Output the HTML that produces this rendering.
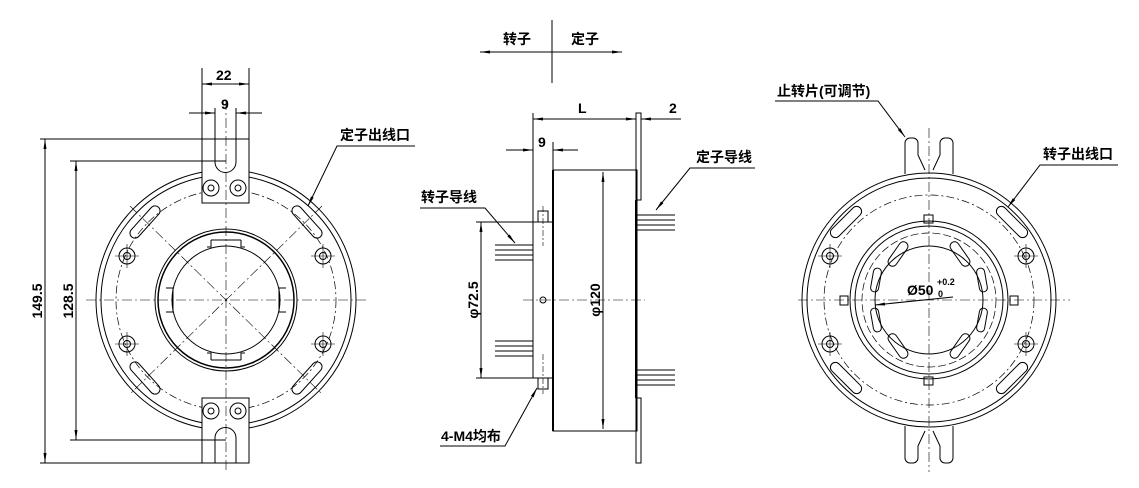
<!DOCTYPE html>
<html><head><meta charset="utf-8"><style>
html,body{margin:0;padding:0;background:#fff;}
svg{display:block;}
text{font-family:"Liberation Sans","Noto Sans CJK SC",sans-serif;font-weight:bold;fill:#000;}
</style></head><body>
<svg width="1139" height="488" viewBox="0 0 1139 488" xmlns="http://www.w3.org/2000/svg">
<defs>
<marker id="a" viewBox="0 0 10 4" refX="10" refY="2" markerWidth="10" markerHeight="4" orient="auto-start-reverse" markerUnits="userSpaceOnUse"><path d="M0,0.5 L10,2 L0,3.5z" fill="#000"/></marker>
</defs>
<g fill="none" stroke="#000" stroke-width="1">
<line x1="552" y1="20" x2="552" y2="83"/>
<line x1="480" y1="52" x2="622" y2="52" marker-start="url(#a)" marker-end="url(#a)"/>

<!-- LEFT VIEW -->
<circle cx="226" cy="300" r="130"/>
<circle cx="226" cy="300" r="125"/>
<circle cx="226" cy="300" r="110" stroke-dasharray="8,3,2,3" stroke-width="0.7"/>
<circle cx="226" cy="300" r="71"/>
<circle cx="226" cy="300" r="68" stroke-width="1.5"/>
<circle cx="226" cy="300" r="54"/>
<path d="M211,240 v7 h-4 M241,240 v7 h4 M211,240 h30 M211,360 v-7 h-4 M241,360 v-7 h4 M211,360 h30 M166,288 h7 v24 h-7 M286,288 h-7 v24 h7"/>
<g stroke-width="0.6" stroke-dasharray="10,3,2,3">
<line x1="86" y1="300" x2="366" y2="300"/>
<line x1="130" y1="206" x2="322" y2="394"/>
<line x1="322" y1="206" x2="130" y2="394"/>
</g>
<circle cx="127" cy="256" r="8"/><circle cx="127" cy="256" r="3.5"/>
<circle cx="323" cy="256" r="8"/><circle cx="323" cy="256" r="3.5"/>
<circle cx="127" cy="344" r="8"/><circle cx="127" cy="344" r="3.5"/>
<circle cx="323" cy="344" r="8"/><circle cx="323" cy="344" r="3.5"/>
<g stroke-width="0.6"><path d="M115,256h24M127,244v24M311,256h24M323,244v24M115,344h24M127,332v24M311,344h24M323,332v24"/></g>
<rect x="-20" y="-5" width="40" height="10" rx="5" transform="translate(145,222) rotate(-48)"/>
<rect x="-20" y="-5" width="40" height="10" rx="5" transform="translate(307,222) rotate(48)"/>
<rect x="-20" y="-5" width="40" height="10" rx="5" transform="translate(145,378) rotate(48)"/>
<rect x="-20" y="-5" width="40" height="10" rx="5" transform="translate(307,378) rotate(-48)"/>
<path d="M202,203 V139 H249 V203 Z" fill="#fff"/>
<path d="M215,139 V162 A10.5,10.5 0 0 0 236,162 V139"/>
<circle cx="211" cy="188" r="8"/><circle cx="211" cy="188" r="3"/>
<circle cx="238" cy="188" r="8"/><circle cx="238" cy="188" r="3"/>
<path d="M202,398 V463 H249 V398 Z" fill="#fff"/>
<path d="M215,463 V438 A10.5,10.5 0 0 1 236,438 V463"/>
<circle cx="211" cy="411" r="8"/><circle cx="211" cy="411" r="3"/>
<circle cx="238" cy="411" r="8"/><circle cx="238" cy="411" r="3"/>
<line x1="226" y1="100" x2="226" y2="470" stroke-width="0.6" stroke-dasharray="10,3,2,3"/>
<line x1="202" y1="68" x2="202" y2="139"/><line x1="249" y1="68" x2="249" y2="139"/>
<line x1="202" y1="84" x2="249" y2="84" marker-start="url(#a)" marker-end="url(#a)"/>
<line x1="215" y1="108" x2="215" y2="139"/><line x1="236" y1="108" x2="236" y2="139"/>
<line x1="189" y1="113" x2="215" y2="113" marker-end="url(#a)"/>
<line x1="262" y1="113" x2="236" y2="113" marker-end="url(#a)"/>
<line x1="40" y1="139" x2="215" y2="139"/><line x1="40" y1="463" x2="215" y2="463"/>
<line x1="45" y1="139" x2="45" y2="463" marker-start="url(#a)" marker-end="url(#a)"/>
<line x1="70" y1="161" x2="226" y2="161"/><line x1="70" y1="440" x2="226" y2="440"/>
<line x1="76" y1="161" x2="76" y2="440" marker-start="url(#a)" marker-end="url(#a)"/>
<path d="M415,146 H337 L308,206" marker-end="url(#a)"/>

<!-- MIDDLE VIEW -->
<line x1="533" y1="113" x2="533" y2="378"/>
<rect x="533" y="222" width="20" height="156"/>
<rect x="553" y="170" width="84" height="261"/>
<line x1="553" y1="170" x2="553" y2="431" stroke-width="2"/>
<rect x="636" y="113" width="5" height="87"/>
<rect x="636" y="398" width="5" height="65"/>
<line x1="636" y1="200" x2="636" y2="398" stroke-width="2"/>
<rect x="538" y="211" width="10" height="11"/><rect x="538" y="378" width="10" height="11"/>
<path d="M543,206v40M543,354v40" stroke-width="0.6" stroke-dasharray="6,2,2,2"/>
<circle cx="543" cy="300" r="3"/>
<line x1="523" y1="300" x2="645" y2="300" stroke-width="0.6" stroke-dasharray="10,3,2,3"/>
<path d="M495,245h38M495,250h38M495,255h38M495,260h38M495,341h38M495,346h38M495,351h38M495,356h38"/>
<path d="M637,215h38M637,220h38M637,225h38M637,230h38M637,370h38M637,375h38M637,380h38M637,385h38"/>
<line x1="533" y1="119" x2="636" y2="119" marker-start="url(#a)" marker-end="url(#a)"/>
<line x1="641" y1="113" x2="641" y2="125"/>
<line x1="661" y1="119" x2="641" y2="119" marker-end="url(#a)"/>
<line x1="641" y1="119" x2="681" y2="119"/>
<line x1="553" y1="142" x2="553" y2="170"/>
<line x1="506" y1="150" x2="533" y2="150" marker-end="url(#a)"/>
<line x1="578" y1="150" x2="553" y2="150" marker-end="url(#a)"/>
<line x1="603" y1="172" x2="603" y2="429" marker-start="url(#a)" marker-end="url(#a)"/>
<line x1="476" y1="222" x2="533" y2="222"/><line x1="476" y1="378" x2="533" y2="378"/>
<line x1="481" y1="222" x2="481" y2="378" marker-start="url(#a)" marker-end="url(#a)"/>
<path d="M420,208 H485 L515,243" marker-end="url(#a)"/>
<path d="M755,168 H690 L656,210" marker-end="url(#a)"/>
<path d="M440,446 H505 L537,388" marker-end="url(#a)"/>

<!-- RIGHT VIEW -->
<circle cx="929" cy="300" r="127"/>
<circle cx="929" cy="300" r="122"/>
<circle cx="929" cy="300" r="105" stroke-dasharray="8,3,2,3" stroke-width="0.7"/>
<circle cx="929" cy="300" r="79"/>
<circle cx="929" cy="300" r="74"/>
<circle cx="929" cy="300" r="67" stroke-dasharray="8,3" stroke-width="0.7"/>
<circle cx="929" cy="300" r="54"/>
<rect x="-14" y="-4.5" width="28" height="9" rx="4.5" transform="translate(898,254) rotate(-55)"/>
<rect x="-14" y="-4.5" width="28" height="9" rx="4.5" transform="translate(960,254) rotate(55)"/>
<rect x="-14" y="-4.5" width="28" height="9" rx="4.5" transform="translate(898,346) rotate(55)"/>
<rect x="-14" y="-4.5" width="28" height="9" rx="4.5" transform="translate(960,346) rotate(-55)"/>
<rect x="-12" y="-4" width="24" height="8" rx="4" transform="translate(876,280) rotate(-80)"/>
<rect x="-12" y="-4" width="24" height="8" rx="4" transform="translate(876,320) rotate(80)"/>
<rect x="-12" y="-4" width="24" height="8" rx="4" transform="translate(982,280) rotate(80)"/>
<rect x="-12" y="-4" width="24" height="8" rx="4" transform="translate(982,320) rotate(-80)"/>
<rect x="-20" y="-5" width="40" height="10" rx="5" transform="translate(846,222) rotate(-45)"/>
<rect x="-20" y="-5" width="40" height="10" rx="5" transform="translate(1012,222) rotate(45)"/>
<rect x="-20" y="-5" width="40" height="10" rx="5" transform="translate(846,378) rotate(45)"/>
<rect x="-20" y="-5" width="40" height="10" rx="5" transform="translate(1012,378) rotate(-45)"/>
<rect x="924" y="215" width="9" height="8"/><rect x="924" y="377" width="9" height="8"/>
<rect x="840" y="296" width="8" height="9"/><rect x="1010" y="296" width="8" height="9"/>
<circle cx="830" cy="256" r="8"/><circle cx="830" cy="256" r="3.5"/>
<circle cx="1026" cy="256" r="8"/><circle cx="1026" cy="256" r="3.5"/>
<circle cx="830" cy="344" r="8"/><circle cx="830" cy="344" r="3.5"/>
<circle cx="1026" cy="344" r="8"/><circle cx="1026" cy="344" r="3.5"/>
<g stroke-width="0.6"><path d="M818,256h24M830,244v24M1014,256h24M1026,244v24M818,344h24M830,332v24M1014,344h24M1026,332v24"/></g>
<path d="M905,174 V143 A5,5 0 0 1 910,138 H913 A5,5 0 0 1 918,143 V155 L925,170 M953,174 V143 A5,5 0 0 0 948,138 H945 A5,5 0 0 0 940,143 V155 L933,170" fill="#fff"/>
<path d="M905,426 V458 A5,5 0 0 0 910,463 H913 A5,5 0 0 0 918,458 V446 L925,431 M953,426 V458 A5,5 0 0 1 948,463 H945 A5,5 0 0 1 940,458 V446 L933,431" fill="#fff"/>
<g stroke-width="0.6" stroke-dasharray="10,3,2,3">
<line x1="798" y1="300" x2="1070" y2="300"/>
<line x1="929" y1="128" x2="929" y2="472"/>
</g>
<line x1="953" y1="297" x2="875" y2="305" marker-end="url(#a)"/>
<path d="M775,101 H878 L905,137" marker-end="url(#a)"/>
<path d="M1118,165 H1040 L1008,207" marker-end="url(#a)"/>
</g>

<g font-size="14">
<text x="503" y="44">转子</text>
<text x="571" y="44">定子</text>
<text x="216" y="80">22</text>
<text x="221" y="109">9</text>
<text x="340" y="140">定子出线口</text>
<text transform="translate(42,301) rotate(-90)" text-anchor="middle">149.5</text>
<text transform="translate(73,301) rotate(-90)" text-anchor="middle">128.5</text>
<text x="578" y="113">L</text>
<text x="669" y="113">2</text>
<text x="538" y="147">9</text>
<text x="696" y="162">定子导线</text>
<text x="421" y="202">转子导线</text>
<text transform="translate(600,300) rotate(-90)" text-anchor="middle">φ120</text>
<text transform="translate(478,300) rotate(-90)" text-anchor="middle">φ72.5</text>
<text x="441" y="441">4-M4均布</text>
<text x="777" y="96">止转片(可调节)</text>
<text x="1043" y="159">转子出线口</text>
<text x="907" y="295">Ø50</text>
<text x="937" y="285" font-size="9">+0.2</text>
<text x="938" y="297" font-size="9">0</text>
</g>
</svg>
</body></html>
